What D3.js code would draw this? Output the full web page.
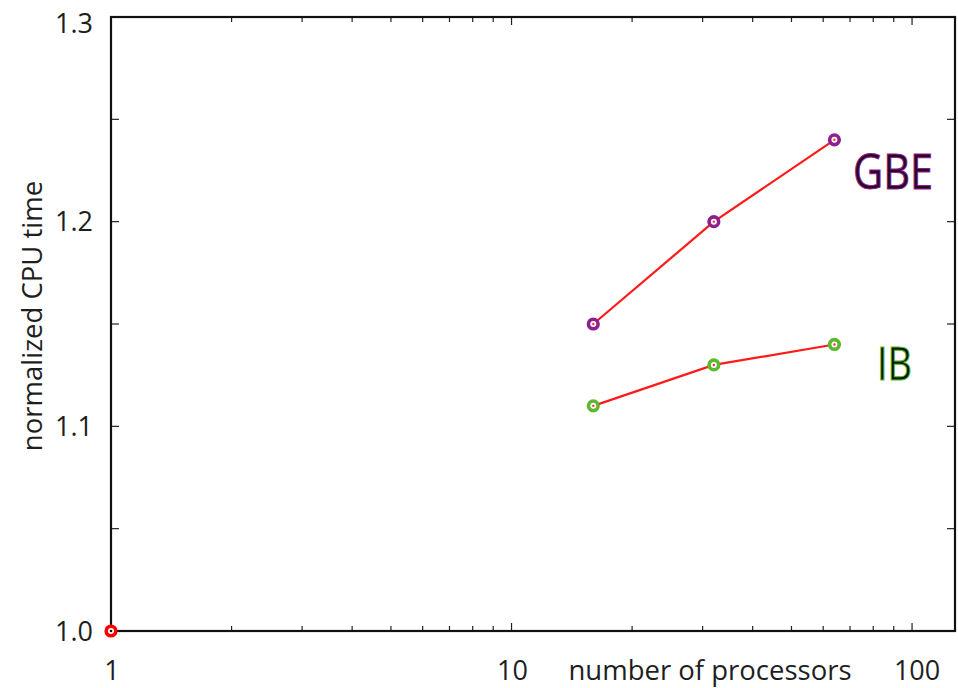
<!DOCTYPE html>
<html><head><meta charset="utf-8">
<script src="https://cdn.jsdelivr.net/npm/d3@7"></script>
<style>body{margin:0;background:#fff}svg{display:block}text{font-family:"Open Sans",sans-serif}</style>
</head><body>
<svg id="c" width="958" height="688"></svg>
<script>
const processors = [16, 32, 64];
const gbeValues = [1.15, 1.20, 1.24];
const ibValues = [1.11, 1.13, 1.14];
const baseline = [{x: 1, y: 1.0}];
const yTickLabels = [1.0, 1.1, 1.2, 1.3];
const xTickLabels = [1, 10, 100];

const svg = d3.select("#c");
const L = 111, R = 955, T = 17, B = 631;
const x = d3.scaleLog().domain([1, 128]).range([L, R]);
const y = d3.scaleLinear().domain([1.0, 1.3]).range([B, T]);

// ticks (inward)
const g = svg.append("g");
const minorX = [];
for (let d of [1, 10, 100]) for (let k = 1; k <= 9; k++) { const v = d * k; if (v <= 128) minorX.push(v); }
minorX.forEach(v => {
  const major = [1, 10, 100].includes(v);
  const len = major ? 8 : 5;
  g.append("line").attr("x1", x(v)).attr("x2", x(v)).attr("y1", B).attr("y2", B - len).attr("stroke", "#222").attr("stroke-width", 1.2);
  g.append("line").attr("x1", x(v)).attr("x2", x(v)).attr("y1", T).attr("y2", T + len).attr("stroke", "#222").attr("stroke-width", 1.2);
});
d3.range(1.0, 1.3001, 0.05).forEach(v => {
  g.append("line").attr("x1", L).attr("x2", L + 8).attr("y1", y(v)).attr("y2", y(v)).attr("stroke", "#222").attr("stroke-width", 1.2);
  g.append("line").attr("x1", R).attr("x2", R - 8).attr("y1", y(v)).attr("y2", y(v)).attr("stroke", "#222").attr("stroke-width", 1.2);
});

// frame
svg.append("rect").attr("x", L).attr("y", T).attr("width", R - L).attr("height", B - T)
  .attr("fill", "none").attr("stroke", "#111").attr("stroke-width", 2.2);

// tick labels
svg.selectAll(".yl").data(yTickLabels).join("text")
  .attr("x", 93).attr("y", d => d === 1.3 ? 33 : y(d) + 9.5).attr("text-anchor", "end")
  .attr("font-size", 27).attr("fill", "#1e1e1e").text(d => d.toFixed(1));
svg.selectAll(".xl").data(xTickLabels).join("text")
  .attr("x", d => x(d) + (d === 100 ? 5 : 1)).attr("y", 680).attr("text-anchor", "middle")
  .attr("font-size", 27).attr("fill", "#1e1e1e").text(d => d);

svg.append("text").attr("x", 710).attr("y", 680).attr("text-anchor", "middle")
  .attr("font-size", 27.5).attr("fill", "#1e1e1e").text("number of processors");
svg.append("text").attr("transform", "translate(42,316) rotate(-90)").attr("text-anchor", "middle")
  .attr("font-size", 27.5).attr("fill", "#1e1e1e").text("normalized CPU time");

// series
const line = d3.line().x(d => x(d.x)).y(d => y(d.y));
const series = [
  {name: "GBE", vals: gbeValues, color: "#8e1f8e", textFill: "#2a0626", lx: 853, ly: 189, fs: 49, w: 80},
  {name: "IB", vals: ibValues, color: "#5cb82e", textFill: "#081a04", lx: 877, ly: 380, fs: 45, w: 35}
];
series.forEach(s => {
  const pts = processors.map((p, i) => ({x: p, y: s.vals[i]}));
  svg.append("path").datum(pts).attr("d", line).attr("fill", "none").attr("stroke", "#ff1a1a").attr("stroke-width", 2.2);
  svg.selectAll(null).data(pts).join("circle").attr("cx", d => x(d.x)).attr("cy", d => y(d.y))
    .attr("r", 4.8).attr("fill", "#fff").attr("stroke", s.color).attr("stroke-width", 3.6);
  svg.selectAll(null).data(pts).join("circle").attr("cx", d => x(d.x)).attr("cy", d => y(d.y))
    .attr("r", 1.2).attr("fill", "#ff3030");
  svg.append("text").attr("x", s.lx).attr("y", s.ly)
    .attr("font-size", s.fs).attr("textLength", s.w).attr("lengthAdjust", "spacingAndGlyphs")
    .attr("fill", s.textFill).attr("stroke", s.color).attr("stroke-width", 1)
    .text(s.name);
});

svg.selectAll(null).data(baseline).join("circle").attr("cx", d => x(d.x)).attr("cy", d => y(d.y))
  .attr("r", 4.8).attr("fill", "#fff").attr("stroke", "#ff0000").attr("stroke-width", 3.6);
svg.selectAll(null).data(baseline).join("circle").attr("cx", d => x(d.x)).attr("cy", d => y(d.y))
  .attr("r", 1.3).attr("fill", "#111");
</script>
</body></html>
